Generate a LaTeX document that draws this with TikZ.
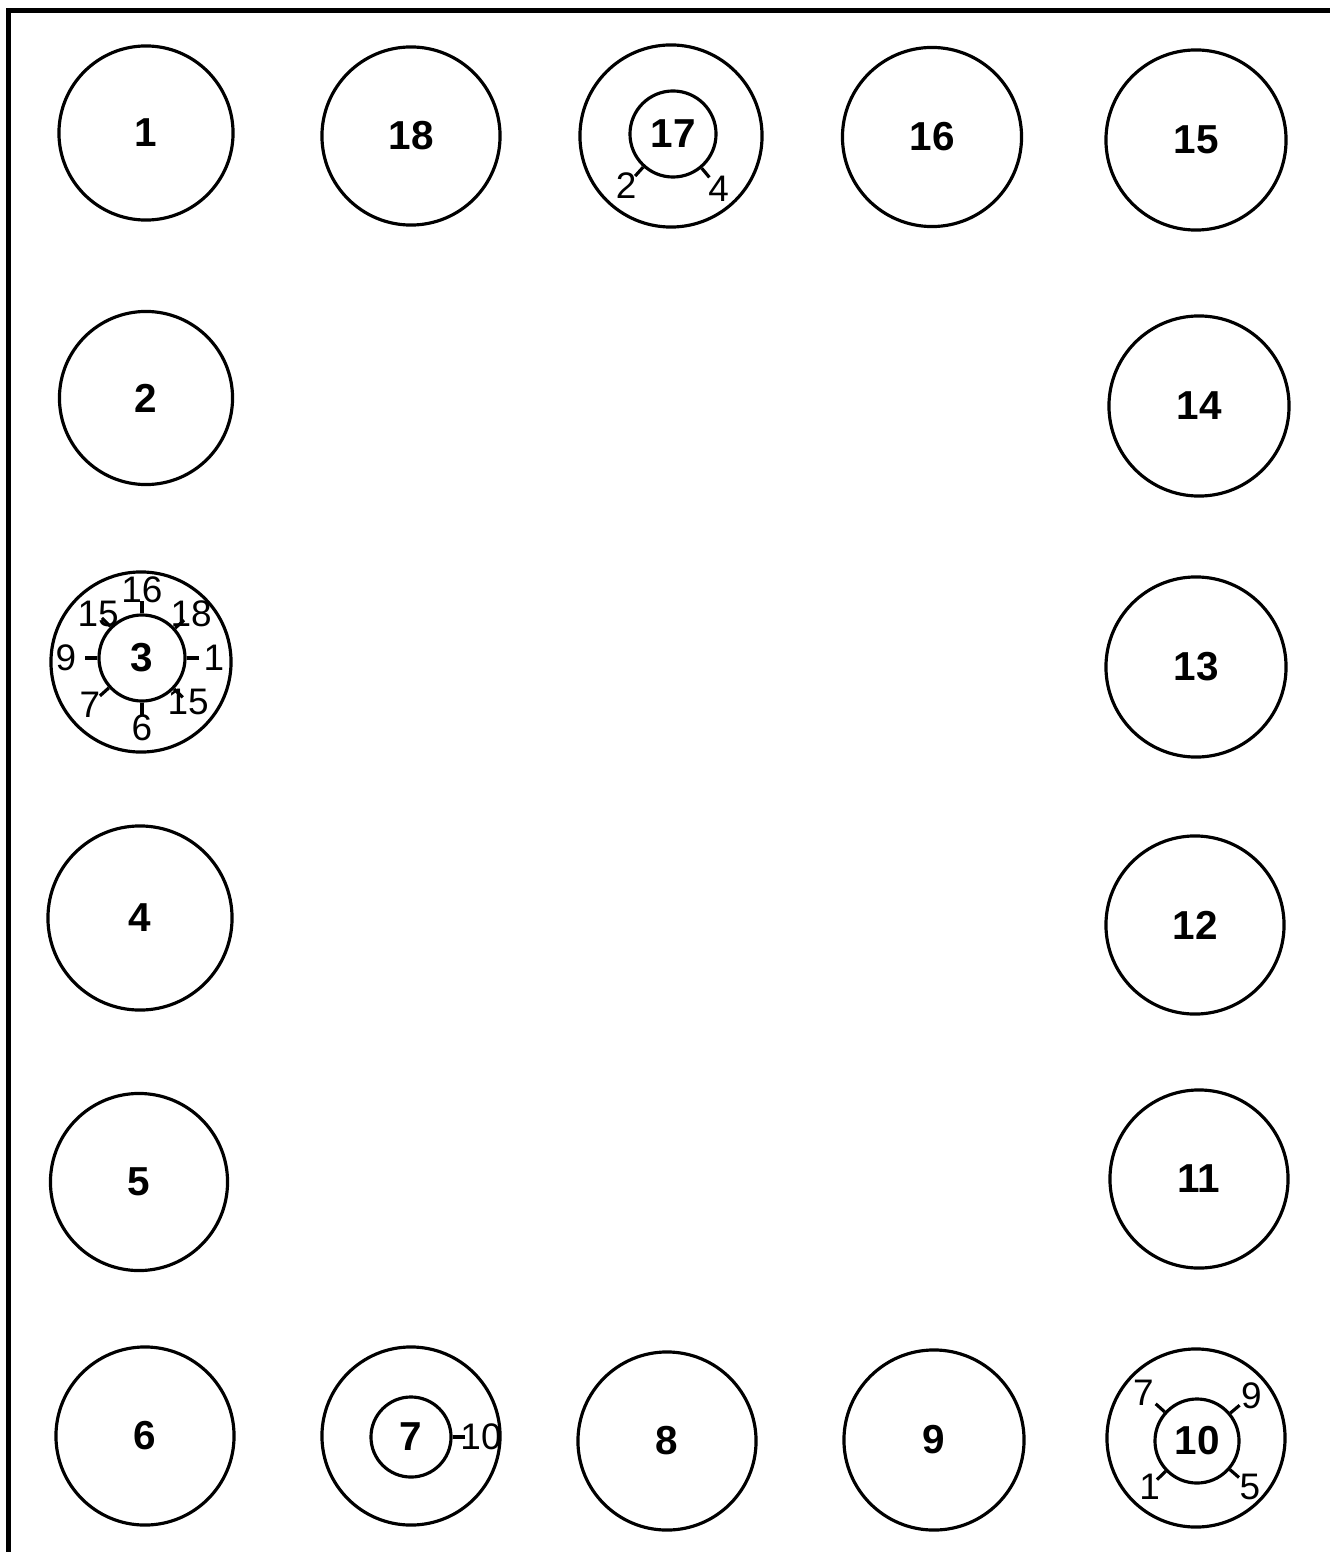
\documentclass[tikz,border=0pt]{standalone}
\usepackage{fontspec}
\setmainfont{Liberation Sans}
\usetikzlibrary{positioning}

\begin{document}
\begin{tikzpicture}[x=0.01cm, y=0.01cm,
    hole/.style={circle, draw, line width=0.9pt, inner sep=0pt,
        font=\fontsize{11.5}{13}\selectfont\bfseries},
    core/.style={circle, draw, line width=0.9pt, inner sep=0pt,
        font=\fontsize{11.5}{13}\selectfont\bfseries},
    tag/.style={inner sep=0pt, font=\fontsize{10.5}{12}\selectfont},
    tick/.style={line width=0.9pt}]
    \useasboundingbox (0,0) rectangle (1330,-1552);
    \draw[line width=1.5pt] (8.5,-1552) -- (8.5,-10.5) -- (1330,-10.5);
    % plain holes
    \foreach \n/\x/\y/\d in {1/146/133/1.74, 18/411/136/1.78, 16/932/137/1.79,
        15/1196/140/1.80, 2/146/398/1.73, 14/1199/406/1.80, 13/1196/667/1.80,
        4/140/918/1.84, 12/1195/925/1.78, 5/139/1182/1.77, 11/1199/1179/1.78,
        6/145/1436/1.78, 8/667/1441/1.78, 9/934/1440/1.80} {
        \node[hole, minimum size=\d cm] (h\n) at (\x,-\y) {\n};
    }
    % ring holes with a core
    \foreach \n/\x/\y/\d in {17/671/136/1.82, 3/141/662/1.80,
        7/411/1436/1.78, 10/1196/1438/1.78} {
        \node[hole, minimum size=\d cm] (h\n) at (\x,-\y) {};
    }
    \foreach \n/\x/\y/\d in {17/673/134/0.86, 3/142/658/0.86,
        7/411/1437/0.80, 10/1197/1441/0.84} {
        \node[core, minimum size=\d cm] (c\n) at (\x,-\y) {\n};
    }
    % ticks and their numbers
    \foreach \c/\a/\r/\t in {c17/228/70/2, c17/310/71/4,
        c3/90/68/16, c3/42/66/18, c3/0/72/1, c3/316/64/15, c3/270/70/6,
        c3/222/70/7, c3/180/76/9, c3/135/62/15,
        c7/0/70/10,
        c10/138/72/7, c10/40/71/9, c10/224/66/1, c10/319/70/5} {
        \draw[tick] (\c.\a) -- ++(\a:12);
        \path (\c) ++(\a:\r) node[tag] {\t};
    }
\end{tikzpicture}
\end{document}
